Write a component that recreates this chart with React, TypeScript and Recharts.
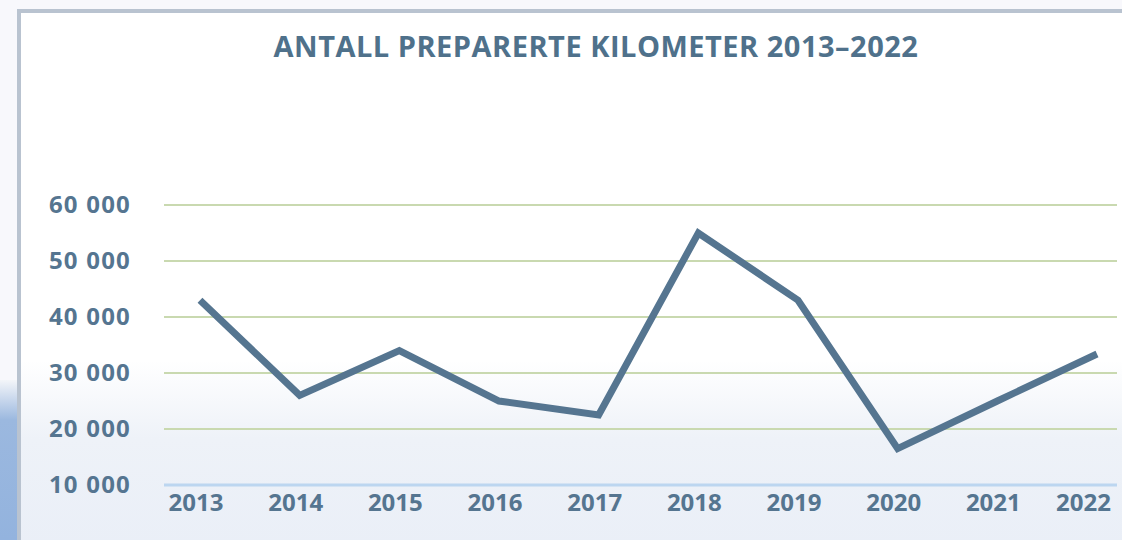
import React from "react";
import { LineChart, Line, XAxis, YAxis, CartesianGrid } from "recharts";

const years = ["2013", "2014", "2015", "2016", "2017", "2018", "2019", "2020", "2021", "2022"];
const kilometers = [43000, 26000, 34000, 25000, 22500, 55000, 43000, 16500, 25000, 33400];
const yTicks = [10000, 20000, 30000, 40000, 50000, 60000];
const title = "ANTALL PREPARERTE KILOMETER 2013–2022";

const data = years.map((y, i) => ({ year: y, km: kilometers[i] }));

const TEXT = "#557590";
const FONT = "'Open Sans', sans-serif";

const fmt = (v: number) => {
  const s = String(v);
  return s.slice(0, s.length - 3) + " " + s.slice(s.length - 3);
};

const YTick = (props: any) => {
  const { x, y, payload } = props;
  return (
    <text x={x - 25} y={y} dy={8} textAnchor="end" fill={TEXT} fontFamily={FONT} fontWeight={700} fontSize={24} letterSpacing={1.2}>
      {fmt(payload.value)}
    </text>
  );
};

const XTick = (props: any) => {
  const { x, y, payload, index } = props;
  const last = index === years.length - 1;
  return (
    <text x={last ? x + 14 : x - 4} y={y} dy={18} textAnchor={last ? "end" : "middle"} fill={TEXT} fontFamily={FONT} fontWeight={700} fontSize={24}>
      {payload.value}
    </text>
  );
};

export default function App() {
  return (
    <div style={{ position: "absolute", left: 0, top: 0, width: 1122, height: 540, overflow: "hidden", background: "#f8f8fc" }}>
      <div style={{ position: "absolute", left: 0, top: 380, width: 20, height: 160, background: "linear-gradient(180deg, #f3f5f9 0%, #9bb8df 25%, #93b3de 100%)" }} />
      <div
        style={{
          position: "absolute",
          left: 17,
          top: 9,
          width: 1122,
          height: 560,
          borderLeft: "4px solid #b9c3d0",
          borderTop: "4px solid #b9c3d0",
          background: "linear-gradient(180deg, #ffffff 0%, #ffffff 62%, #eef2f8 76%, #e9eef7 100%)",
        }}
      />
      <div style={{ position: "absolute", left: 0, top: 0 }}>
        <LineChart width={1122} height={540} data={data} margin={{ top: 205, right: 5, bottom: 25, left: 0 }}>
          <text x={596} y={57} textAnchor="middle" fill="#4f718b" fontFamily={FONT} fontWeight={700} fontSize={29} letterSpacing={0.5}>
            {title}
          </text>
          <CartesianGrid vertical={false} horizontalValues={[20000, 30000, 40000, 50000, 60000]} stroke="#c9d9b0" strokeWidth={2} />
          <XAxis
            dataKey="year"
            height={30}
            padding={{ left: 36, right: 20 }}
            axisLine={{ stroke: "#bcd6f0", strokeWidth: 3 }}
            tickLine={false}
            tick={<XTick />}
            interval={0}
          />
          <YAxis
            width={164}
            domain={[10000, 60000]}
            ticks={yTicks}
            axisLine={false}
            tickLine={false}
            tick={<YTick />}
            interval={0}
          />
          <Line
            type="linear"
            dataKey="km"
            stroke="#557590"
            strokeWidth={7}
            strokeLinejoin="miter"
            dot={false}
            isAnimationActive={false}
          />
        </LineChart>
      </div>
    </div>
  );
}
